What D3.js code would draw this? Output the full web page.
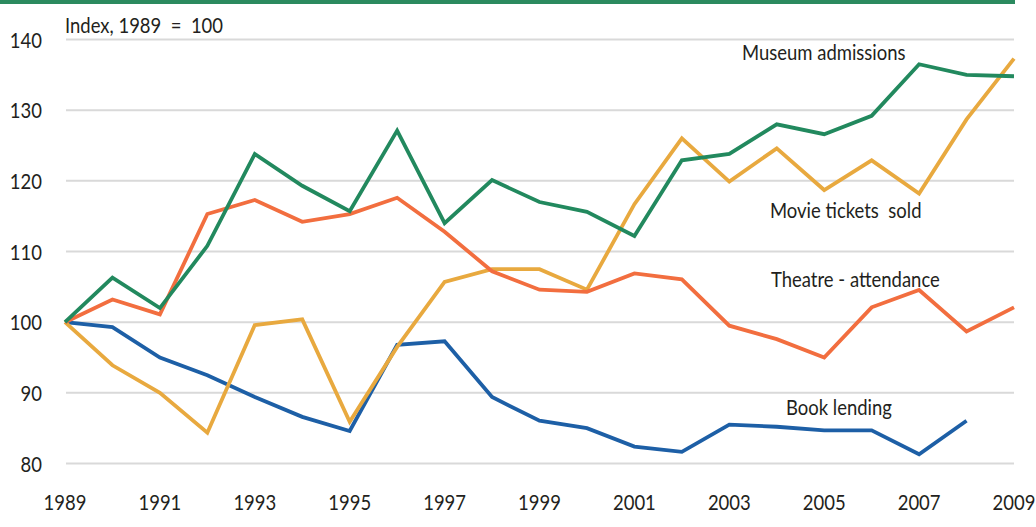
<!DOCTYPE html>
<html>
<head>
<meta charset="utf-8">
<script src="https://cdn.jsdelivr.net/npm/d3@7"></script>
<style>
  body { margin: 0; background: #fff; }
  svg text { font-family: Lato, "Open Sans", sans-serif; fill: #231f20; }
</style>
</head>
<body>
<div id="chart"></div>
<script>
const years = d3.range(1989, 2010);
const yTicks = [80, 90, 100, 110, 120, 130, 140];
const xTicks = [1989, 1991, 1993, 1995, 1997, 1999, 2001, 2003, 2005, 2007, 2009];

const museum = [100, 106.3, 102.0, 110.8, 123.8, 119.3, 115.7, 127.1, 114.0, 120.1, 117.0,
  115.6, 112.2, 122.9, 123.8, 128.0, 126.6, 129.2, 136.5, 135.0, 134.8];
const theatre = [100, 103.2, 101.1, 115.3, 117.3, 114.2, 115.3, 117.6, 112.8, 107.2, 104.6,
  104.3, 106.9, 106.05, 99.5, 97.6, 95.0, 102.1, 104.55, 98.7, 102.1];
const movies = [100, 93.9, 90.0, 84.35, 99.6, 100.4, 85.9, 96.5, 105.7, 107.5, 107.5,
  104.6, 116.7, 126.0, 119.9, 124.6, 118.7, 122.9, 118.2, 128.7, 137.3];
const books = [100, 99.3, 95.0, 92.5, 89.4, 86.6, 84.6, 96.8, 97.3, 89.4, 86.05,
  85.0, 82.4, 81.65, 85.5, 85.2, 84.7, 84.7, 81.3, 86.05, null];

const series = [
  { name: "Book lending", values: books, color: "#1d5fa6", lx: 786, ly: 415 },
  { name: "Movie tickets  sold", values: movies, color: "#e8a93f", lx: 770, ly: 218 },
  { name: "Theatre - attendance", values: theatre, color: "#f26e3f", lx: 771, ly: 287 },
  { name: "Museum admissions", values: museum, color: "#22895e", lx: 742, ly: 60 }
];

const width = 1036, height = 527;
const fontSize = 21, squeeze = 0.88;
const svg = d3.select("#chart").append("svg")
  .attr("width", width)
  .attr("height", height);

const x = d3.scaleLinear().domain([1989, 2009]).range([65, 1014]);
const y = d3.scaleLinear().domain([80, 140]).range([463.5, 39.5]);

// narrow text: place at (tx, ty) and squeeze horizontally
function addText(tx, ty, str, anchor) {
  return svg.append("text")
    .attr("transform", `translate(${tx},${ty}) scale(${squeeze},1)`)
    .attr("text-anchor", anchor || "start")
    .attr("font-size", fontSize)
    .style("white-space", "pre")
    .text(str);
}

// top rule
svg.append("rect")
  .attr("x", 0).attr("y", 0)
  .attr("width", 1015).attr("height", 4)
  .attr("fill", "#2b8a5f");

// gridlines
svg.selectAll("line.grid")
  .data(yTicks)
  .enter()
  .append("line")
  .attr("class", "grid")
  .attr("x1", 66).attr("x2", 1014)
  .attr("y1", d => y(d)).attr("y2", d => y(d))
  .attr("stroke", "#d9d9d9")
  .attr("stroke-width", 2);

yTicks.forEach(t => addText(42, y(t) + 8, t, "end"));
xTicks.forEach(t => addText(x(t), 510, t, "middle"));
addText(65, 33, "Index, 1989  =  100");

const line = d3.line()
  .defined(d => d[1] != null)
  .x(d => x(d[0]))
  .y(d => y(d[1]));

svg.selectAll("path.series")
  .data(series)
  .enter()
  .append("path")
  .attr("class", "series")
  .attr("fill", "none")
  .attr("stroke", d => d.color)
  .attr("stroke-width", 3.8)
  .attr("stroke-linejoin", "miter")
  .attr("d", d => line(years.map((yr, i) => [yr, d.values[i]])));

series.forEach(s => addText(s.lx, s.ly, s.name));
</script>
</body>
</html>
